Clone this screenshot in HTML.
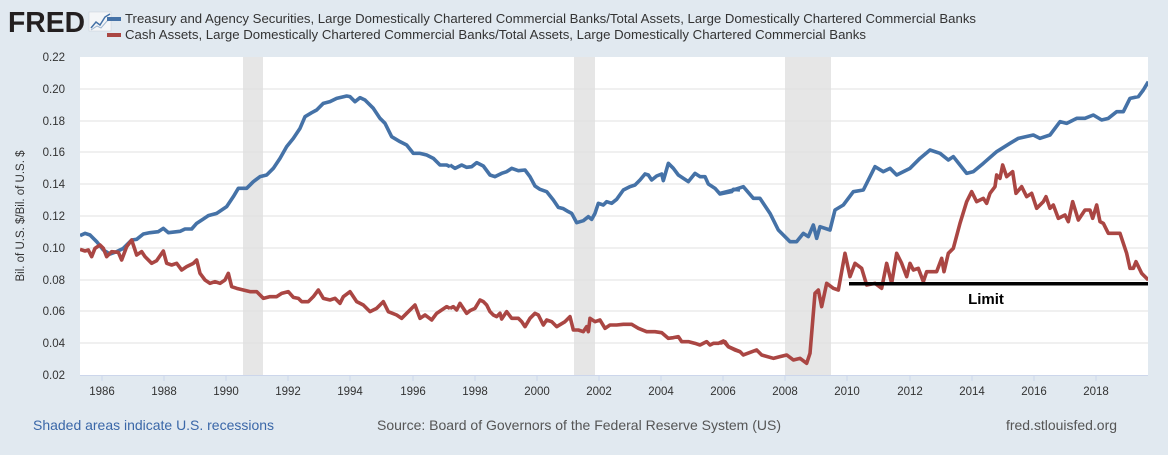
<!DOCTYPE html>
<html><head><meta charset="utf-8"><style>
html,body{margin:0;padding:0;background:#e1e9f0;}
body{width:1168px;height:450px;overflow:hidden;font-family:"Liberation Sans",Arial,sans-serif;}
</style></head><body>
<svg width="1168" height="450" xmlns="http://www.w3.org/2000/svg" font-family="Liberation Sans, Arial, sans-serif">
<rect width="1168" height="450" fill="#e1e9f0"/>
<!-- logo -->
<text x="8" y="32" font-size="29" font-weight="bold" fill="#231f20" textLength="77" lengthAdjust="spacingAndGlyphs">FRED</text>
<rect x="89" y="12" width="22" height="19" fill="#f4f6f8" stroke="#c8d0d8" stroke-width="0.5"/>
<polyline points="91,28 96,22 100,25 105,17 110,14" fill="none" stroke="#4572a7" stroke-width="1.5"/>
<polyline points="91,30 97,26 101,28 107,21 110,20" fill="none" stroke="#9fb6d0" stroke-width="1"/>
<!-- legend -->
<rect x="107" y="17" width="14" height="4" fill="#4572a7"/>
<rect x="107" y="33" width="14" height="4" fill="#aa4643"/>
<text x="125" y="23" font-size="13" fill="#333" textLength="851" lengthAdjust="spacingAndGlyphs">Treasury and Agency Securities, Large Domestically Chartered Commercial Banks/Total Assets, Large Domestically Chartered Commercial Banks</text>
<text x="125" y="39" font-size="13" fill="#333" textLength="741" lengthAdjust="spacingAndGlyphs">Cash Assets, Large Domestically Chartered Commercial Banks/Total Assets, Large Domestically Chartered Commercial Banks</text>
<!-- plot -->
<rect x="80" y="57" width="1068" height="318" fill="#fff"/>
<rect x="243" y="57" width="20" height="318" fill="#e6e6e6"/>
<rect x="574" y="57" width="21" height="318" fill="#e6e6e6"/>
<rect x="785" y="57" width="46" height="318" fill="#e6e6e6"/>
<g stroke="#e0e0e0" stroke-width="1">
<line x1="80" x2="1148" y1="89" y2="89"/><line x1="80" x2="1148" y1="121" y2="121"/>
<line x1="80" x2="1148" y1="152" y2="152"/><line x1="80" x2="1148" y1="184" y2="184"/>
<line x1="80" x2="1148" y1="216" y2="216"/><line x1="80" x2="1148" y1="248" y2="248"/>
<line x1="80" x2="1148" y1="280" y2="280"/><line x1="80" x2="1148" y1="311" y2="311"/>
<line x1="80" x2="1148" y1="343" y2="343"/>
</g>
<line x1="80" x2="1148" y1="375.5" y2="375.5" stroke="#ccd6eb"/>
<g stroke="#ccd6eb">
<line x1="102" x2="102" y1="375" y2="381"/><line x1="164" x2="164" y1="375" y2="381"/><line x1="226" x2="226" y1="375" y2="381"/><line x1="288" x2="288" y1="375" y2="381"/><line x1="350" x2="350" y1="375" y2="381"/><line x1="413" x2="413" y1="375" y2="381"/><line x1="475" x2="475" y1="375" y2="381"/><line x1="537" x2="537" y1="375" y2="381"/><line x1="599" x2="599" y1="375" y2="381"/><line x1="661" x2="661" y1="375" y2="381"/><line x1="723" x2="723" y1="375" y2="381"/><line x1="785" x2="785" y1="375" y2="381"/><line x1="847" x2="847" y1="375" y2="381"/><line x1="910" x2="910" y1="375" y2="381"/><line x1="972" x2="972" y1="375" y2="381"/><line x1="1034" x2="1034" y1="375" y2="381"/><line x1="1096" x2="1096" y1="375" y2="381"/>
</g>
<g font-size="11.5" fill="#333" text-anchor="middle">
<text x="102" y="395">1986</text><text x="164" y="395">1988</text><text x="226" y="395">1990</text><text x="288" y="395">1992</text><text x="350" y="395">1994</text><text x="413" y="395">1996</text><text x="475" y="395">1998</text><text x="537" y="395">2000</text><text x="599" y="395">2002</text><text x="661" y="395">2004</text><text x="723" y="395">2006</text><text x="785" y="395">2008</text><text x="847" y="395">2010</text><text x="910" y="395">2012</text><text x="972" y="395">2014</text><text x="1034" y="395">2016</text><text x="1096" y="395">2018</text>
</g>
<g font-size="11.5" fill="#333" text-anchor="end">
<text x="65" y="61">0.22</text><text x="65" y="93">0.20</text><text x="65" y="125">0.18</text><text x="65" y="156">0.16</text><text x="65" y="188">0.14</text><text x="65" y="220">0.12</text><text x="65" y="252">0.10</text><text x="65" y="284">0.08</text><text x="65" y="315">0.06</text><text x="65" y="347">0.04</text><text x="65" y="379">0.02</text>
</g>
<text transform="translate(24,216) rotate(-90)" font-size="11.5" fill="#333" text-anchor="middle">Bil. of U.S. $/Bil. of U.S. $</text>
<defs><clipPath id="c"><rect x="80" y="50" width="1068" height="330"/></clipPath></defs>
<g clip-path="url(#c)" fill="none" stroke-width="3.6" stroke-linejoin="round">
<g transform="translate(0,50) scale(0.33333)">
<polyline vector-effect="non-scaling-stroke" stroke="#4572a7" points="240,557 255,550 270,555 290,575 310,600 330,612 350,605 370,595 395,570 410,568 430,552 450,548 475,545 490,535 505,548 540,544 555,537 575,537 590,520 610,507 625,497 650,490 680,470 700,440 715,415 740,415 760,395 780,380 800,375 820,355 840,325 860,290 880,265 900,235 915,200 935,188 950,180 970,160 990,155 1010,145 1040,138 1050,140 1065,155 1080,143 1095,150 1120,175 1140,205 1155,220 1175,260 1200,275 1220,285 1240,310 1260,310 1280,315 1300,325 1320,345 1340,345 1350,350"/>
<polyline vector-effect="non-scaling-stroke" stroke="#aa4643" points="240,598 255,603 265,600 275,620 285,595 300,585 310,595 320,620 335,605 355,607 365,630 380,590 395,570 410,615 425,605 435,620 455,640 470,632 490,603 500,640 515,645 530,640 545,660 560,650 580,640 590,630 600,670 615,690 630,700 645,695 660,700 675,690 685,670 695,710 710,715 730,720 750,725 770,725 790,745 810,740 830,740 845,730 865,725 880,742 895,745 905,755 925,755 940,740 955,720 970,745 990,750 1005,745 1020,760 1030,740 1050,725 1070,755 1090,765 1110,785 1130,775 1150,755 1165,785 1190,795 1205,805 1220,790 1245,765 1260,805 1275,795 1295,810 1310,790 1325,780 1340,770 1350,775"/>
</g>
<g transform="translate(440,50) scale(0.33333)">
<polyline vector-effect="non-scaling-stroke" stroke="#4572a7" points="30,345 45,355 65,345 80,352 95,350 110,338 130,348 150,375 165,380 185,370 200,365 215,355 235,362 255,360 270,380 285,408 300,418 320,425 340,450 355,472 370,476 385,485 395,490 410,518 430,512 445,500 455,508 465,490 475,460 490,465 500,455 515,460 530,448 550,420 570,410 585,405 600,390 615,372 625,375 635,390 650,378 665,372 670,392 685,340 700,355 715,375 745,395 765,370 780,380 795,380 805,402 825,415 840,432 860,428 875,425 880,418 900,420"/>
<polyline vector-effect="non-scaling-stroke" stroke="#aa4643" points="30,775 40,770 50,780 60,760 80,790 90,782 105,775 120,750 130,755 140,765 150,785 160,795 170,800 180,790 185,807 200,785 215,805 235,805 245,815 255,830 270,805 285,790 295,795 310,825 320,810 335,815 350,830 375,815 390,800 400,840 415,840 430,845 440,830 445,845 450,805 465,815 480,810 495,835 510,825 530,825 550,823 575,823 595,835 620,845 645,845 665,848 685,865 700,863 715,860 725,875 745,875 765,880 780,885 800,875 810,885 820,880 835,880 850,873 865,890 885,900 900,905"/>
</g>
<g transform="translate(720,50) scale(0.33333)">
<polyline vector-effect="non-scaling-stroke" stroke="#4572a7" points="0,430 40,420 70,410 100,445 120,445 150,490 175,540 210,575 230,575 250,550 265,560 280,525 290,565 300,530 330,540 345,480 370,465 400,425 430,420 465,350 490,365 510,355 530,375 570,355 600,325 630,300 660,310 685,330 700,320 740,370 760,365 790,340 830,305 870,280 895,265 940,255 960,265 990,255 1020,215 1040,220 1070,205 1095,205 1120,195 1145,210 1165,205 1190,185 1210,185 1230,145 1255,140 1270,120 1285,95"/>
<polyline vector-effect="non-scaling-stroke" stroke="#aa4643" points="0,880 15,875 25,890 60,905 70,915 110,900 125,915 160,925 180,920 200,915 220,930 240,925 260,940 270,910 285,730 295,720 305,770 320,700 340,715 355,720 375,610 390,680 405,640 425,655 440,705 465,700 485,715 500,640 515,700 530,610 545,640 560,680 570,640 580,660 595,655 610,695 620,665 650,665 665,625 672,665 685,610 700,595 720,520 740,455 755,425 770,455 790,445 800,460 810,430 825,410 830,375 840,385 848,345 860,380 878,365 888,430 905,410 920,440 935,430 950,475 970,455 978,440 990,475 1000,465 1015,505 1035,495 1045,515 1058,455 1075,510 1095,480 1110,480 1118,505 1130,465 1140,515 1150,520 1165,550 1200,550 1220,610 1230,655 1240,655 1248,635 1265,670 1285,690"/>
</g>
</g>
<!-- limit -->
<rect x="849" y="282" width="299" height="3.5" fill="#000"/>
<text x="986" y="304" font-size="15" font-weight="bold" fill="#000" text-anchor="middle">Limit</text>
<!-- footer -->
<text x="33" y="430" font-size="14" fill="#3a67a8" textLength="241" lengthAdjust="spacingAndGlyphs">Shaded areas indicate U.S. recessions</text>
<text x="377" y="430" font-size="14" fill="#555" textLength="404" lengthAdjust="spacingAndGlyphs">Source: Board of Governors of the Federal Reserve System (US)</text>
<text x="1006" y="430" font-size="14" fill="#555" textLength="111" lengthAdjust="spacingAndGlyphs">fred.stlouisfed.org</text>
</svg>
</body></html>
